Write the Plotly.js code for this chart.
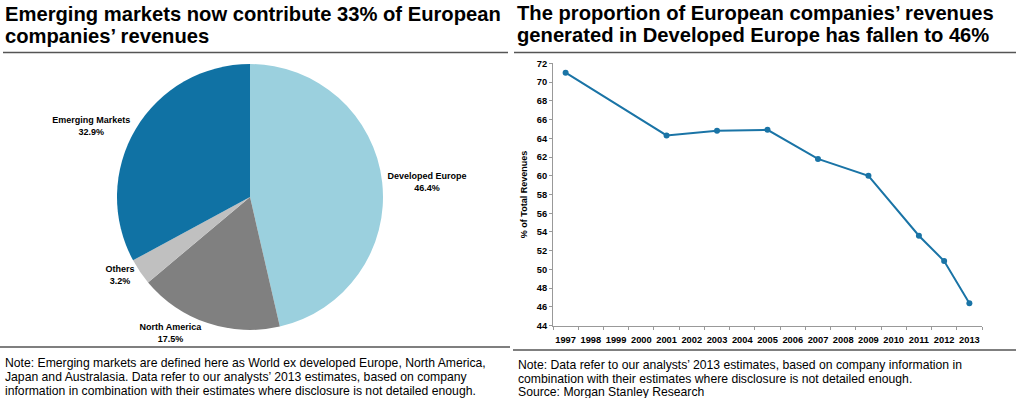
<!DOCTYPE html>
<html>
<head>
<meta charset="utf-8">
<script src="https://cdn.plot.ly/plotly-3.0.1.min.js"></script>
<style>html,body{margin:0;padding:0;background:#fff;}#chart{width:1024px;height:398px;}</style>
</head>
<body>
<div id="chart"></div>
<script>
// ---- data ----
const pieLabels = ['Developed Europe', 'North America', 'Others', 'Emerging Markets'];
const pieValues = [46.4, 17.5, 3.2, 32.9];
const years = ['1997','1998','1999','2000','2001','2002','2003','2004','2005','2006','2007','2008','2009','2010','2011','2012','2013'];
const devEuropeShare = [71.0, null, null, null, 64.3, null, 64.8, null, 64.9, null, 61.8, null, 60.0, null, 53.6, 50.9, 46.4];
const yTicks = [44,46,48,50,52,54,56,58,60,62,64,66,68,70,72];
const leftTitle = ['Emerging markets now contribute 33% of European', 'companies\u2019 revenues'];
const rightTitle = ['The proportion of European companies\u2019 revenues', 'generated in Developed Europe has fallen to 46%'];
const leftNote = [
  'Note: Emerging markets are defined here as World ex developed Europe, North America,',
  'Japan and Australasia. Data refer to our analysts\u2019 2013 estimates, based on company',
  'information in combination with their estimates where disclosure is not detailed enough.'
];
const rightNote = [
  'Note: Data refer to our analysts\u2019 2013 estimates, based on company information in',
  'combination with their estimates where disclosure is not detailed enough.',
  'Source: Morgan Stanley Research'
];

// ---- styles ----
const pieColors = ['#9bd0de', '#808080', '#c0c0c0', '#1072a4'];
const FONT = 'Liberation Sans, Arial, Helvetica, sans-serif';
const W = 1024, H = 398;
const px = x => x / W;
const py = y => 1 - y / H;

const pie = {
  type: 'pie',
  labels: pieLabels,
  values: pieValues,
  sort: false,
  direction: 'clockwise',
  rotation: 0,
  marker: {colors: pieColors, line: {width: 0}},
  textposition: 'outside',
  texttemplate: '<b>%{label}</b><br><b>%{value:.1f}%</b>',
  textfont: {family: FONT, size: 9, color: '#000'},
  domain: {x: [px(117), px(383)], y: [py(330), py(64)]},
  showlegend: false,
  hoverinfo: 'label+value'
};

const line = {
  type: 'scatter',
  mode: 'lines+markers',
  x: years,
  y: devEuropeShare,
  connectgaps: true,
  line: {color: '#1a74a6', width: 2},
  marker: {color: '#1a74a6', size: 6},
  xaxis: 'x', yaxis: 'y',
  showlegend: false
};

const annotations = [];
leftTitle.forEach((t, i) => annotations.push({
  text: '<b>' + t + '</b>', xref: 'paper', yref: 'paper', x: px(3), y: py(1 + i * 21.5),
  xanchor: 'left', yanchor: 'top', showarrow: false,
  font: {family: FONT, size: 20.2, color: '#000'}
}));
rightTitle.forEach((t, i) => annotations.push({
  text: '<b>' + t + '</b>', xref: 'paper', yref: 'paper', x: px(515), y: py(0 + i * 21.5),
  xanchor: 'left', yanchor: 'top', showarrow: false,
  font: {family: FONT, size: 20.2, color: '#000'}
}));
leftNote.forEach((t, i) => annotations.push({
  text: t, xref: 'paper', yref: 'paper', x: px(3), y: py(354 + i * 13.8),
  xanchor: 'left', yanchor: 'top', showarrow: false,
  font: {family: FONT, size: 12.2, color: '#000'}
}));
rightNote.forEach((t, i) => annotations.push({
  text: t, xref: 'paper', yref: 'paper', x: px(516), y: py(356 + i * 13.5),
  xanchor: 'left', yanchor: 'top', showarrow: false,
  font: {family: FONT, size: 12.2, color: '#000'}
}));

const rule = (x0, x1, y) => ({type: 'line', xref: 'paper', yref: 'paper',
  x0: px(x0), x1: px(x1), y0: py(y), y1: py(y), line: {color: '#555', width: 1.5}});

const layout = {
  width: W, height: H,
  margin: {l: 0, r: 0, t: 0, b: 0},
  paper_bgcolor: '#fff', plot_bgcolor: '#fff',
  font: {family: FONT, color: '#000'},
  xaxis: {
    domain: [px(553), px(982)],
    type: 'category',
    range: [-0.5, 16.5],
    tickson: 'boundaries',
    tickangle: 0,
    ticks: 'outside', ticklen: 3, tickcolor: '#999',
    ticklabelstandoff: 5,
    showline: true, linecolor: '#999', linewidth: 1,
    showgrid: false, zeroline: false,
    tickfont: {family: FONT, size: 9.3, color: '#000', weight: 'bold'},
    anchor: 'y', fixedrange: true
  },
  yaxis: {
    domain: [py(325.7), py(63.3)],
    range: [44, 72],
    tickvals: yTicks,
    ticks: 'outside', ticklen: 3, tickcolor: '#999',
    showline: true, linecolor: '#999', linewidth: 1,
    showgrid: false, zeroline: false,
    tickfont: {family: FONT, size: 9.3, color: '#000', weight: 'bold'},
    title: {text: '<b>% of Total Revenues</b>', font: {family: FONT, size: 9, color: '#000'}, standoff: 7},
    anchor: 'x', fixedrange: true
  },
  shapes: [rule(3, 508, 52.5), rule(514, 1016, 52.5), rule(0, 510, 347), rule(513, 1016, 350)],
  annotations: annotations
};

Plotly.newPlot('chart', [pie, line], layout, {displayModeBar: false, staticPlot: true});
</script>
</body>
</html>
